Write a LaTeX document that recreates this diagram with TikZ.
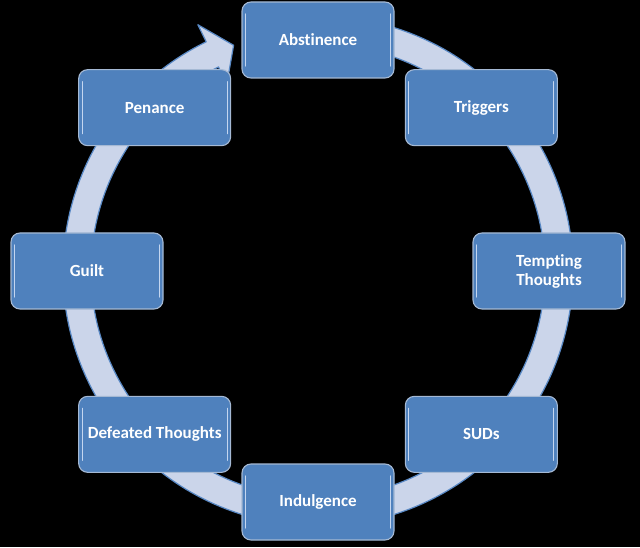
\documentclass[tikz,border=0pt]{standalone}
\usepackage{fontspec}
\setmainfont[Ligatures=NoCommon]{Carlito}
\usetikzlibrary{calc}
\definecolor{boxblue}{RGB}{79,129,189}
\definecolor{boxedge}{RGB}{165,185,212}
\definecolor{boxhi}{RGB}{196,214,240}
\definecolor{ringfill}{RGB}{203,213,234}
\definecolor{ringedge}{RGB}{88,136,196}
\tikzset{
  stage/.style={
    draw=boxedge, line width=1.1pt, fill=boxblue, rounded corners=9pt,
    minimum width=152pt, minimum height=76pt, inner sep=2pt,
    text=white, font=\bfseries\fontsize{17}{19}\selectfont, align=center,
    path picture={
      \draw[boxhi, line width=1.3pt, line cap=round]
        ([xshift=3.5pt,yshift=-12pt]path picture bounding box.north west) --
        ([xshift=3.5pt,yshift=12pt]path picture bounding box.south west);
      \draw[boxhi, line width=1.3pt, line cap=round]
        ([xshift=-3.5pt,yshift=-12pt]path picture bounding box.north east) --
        ([xshift=-3.5pt,yshift=12pt]path picture bounding box.south east);
    }
  },
  ring/.style={fill=ringfill, draw=ringedge, line width=1.2pt, line join=round}
}
\begin{document}
\begin{tikzpicture}[x=1pt,y=1pt]
\fill[black] (0,0) rectangle (640,547);
\useasboundingbox (0,0) rectangle (640,547);
\coordinate (C) at (318,276);
% circular arrow
\draw[ring] ($(C)+(78:255)$) arc[start angle=78, end angle=-244, radius=255]
  -- ($(C)+(116:274)$) -- ($(C)+(110.5:241)$) -- ($(C)+(116:208)$)
  -- ($(C)+(116:227)$) arc[start angle=-244, end angle=78, radius=227] -- cycle;
% stages
\node[stage] (abst) at ($(C)+(90:231)$) {Abstinence};
\node[stage] (trig) at ($(C)+(45:231)$) {Triggers};
\node[stage] (tempt) at ($(C)+(0:231)$) {Tempting\\Thoughts};
\node[stage] (suds) at ($(C)+(-45:231)$) {SUDs};
\node[stage] (indul) at ($(C)+(-90:231)$) {Indulgence};
\node[stage] (defeat) at ($(C)+(-135:231)$) {Defeated Thoughts};
\node[stage] (guilt) at ($(C)+(180:231)$) {Guilt};
\node[stage] (pen) at ($(C)+(135:231)$) {Penance};
\end{tikzpicture}
\end{document}
